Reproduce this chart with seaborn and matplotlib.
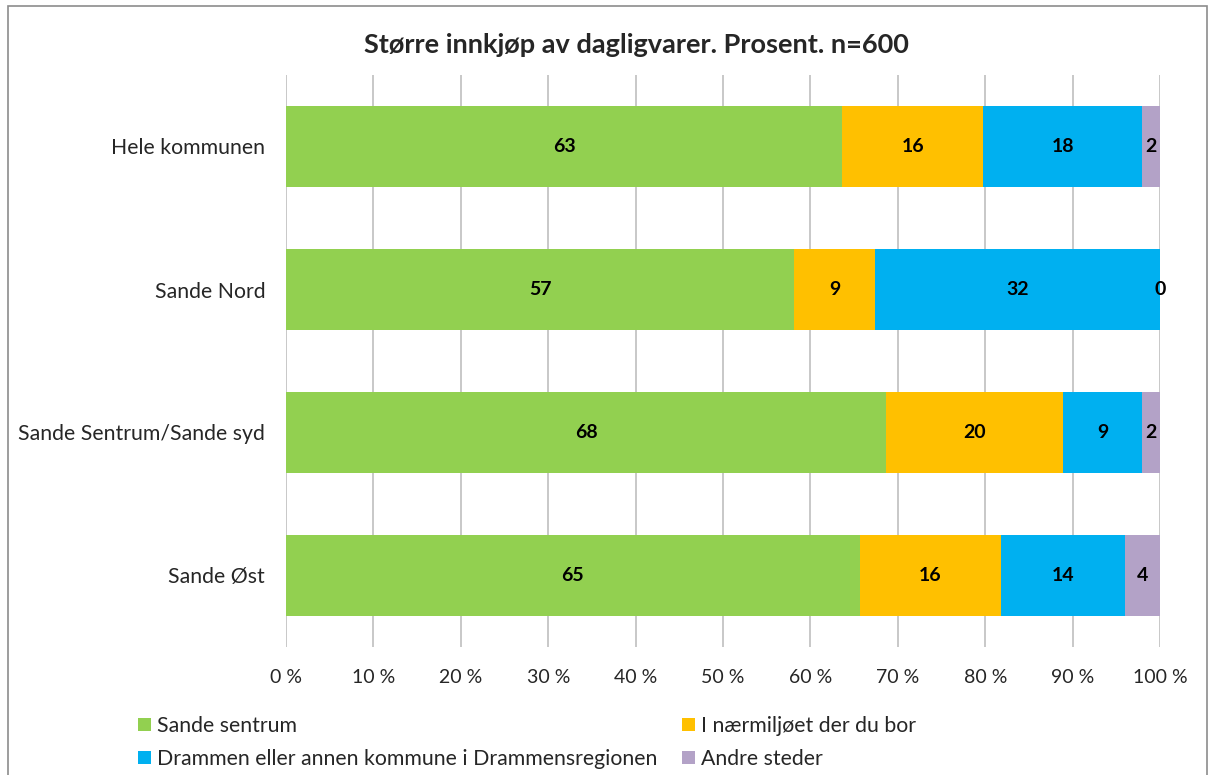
import numpy as np
import pandas as pd
import matplotlib
matplotlib.use('Agg')
import matplotlib.pyplot as plt
import seaborn as sns
from matplotlib.patches import Patch, Rectangle

# data (labels shown in percent, bars normalised to 100 %)
areas = ['Hele kommunen', 'Sande Nord', 'Sande Sentrum/Sande syd', 'Sande Øst']
sande_sentrum = [63, 57, 68, 65]
naermiljo = [16, 9, 20, 16]
drammen = [18, 32, 9, 14]
andre = [2, 0, 2, 4]
series_names = ['Sande sentrum', 'I nærmiljøet der du bor',
                'Drammen eller annen kommune i Drammensregionen', 'Andre steder']
colors = ['#92D050', '#FFC000', '#00B0F0', '#B3A2C7']
ticks = np.arange(0, 101, 10)

sns.set_theme(style='white')
plt.rcParams['font.family'] = ['Lato', 'DejaVu Sans']

vals = np.array([sande_sentrum, naermiljo, drammen, andre], dtype=float)
share = vals / vals.sum(axis=0) * 100
cum = np.cumsum(share, axis=0)

fig = plt.figure(figsize=(12.1, 7.75), dpi=100)
ax = fig.add_axes([286 / 1210, 1 - 647 / 775, 874 / 1210, 572 / 775])

# stacked bars: draw cumulative totals from the outside in
for i in range(3, -1, -1):
    df = pd.DataFrame({'area': areas, 'value': cum[i]})
    sns.barplot(data=df, x='value', y='area', orient='h', color=colors[i],
                saturation=1, width=0.56, edgecolor='none', linewidth=0, ax=ax)

for i in range(4):
    start = cum[i] - share[i]
    for j in range(len(areas)):
        ax.text(start[j] + share[i][j] / 2, j, f'{int(vals[i][j])}',
                ha='center', va='center', fontsize=14, fontweight='bold', color='black')

ax.set_xlim(0, 100)
ax.set_ylim(3.5, -0.5)
ax.set_xticks(ticks)
ax.set_xticklabels([f'{t} %' for t in ticks], fontsize=14)
ax.tick_params(axis='x', pad=16, length=0)
ax.tick_params(axis='y', pad=15, length=0, labelsize=15.3)
ax.set_xlabel('')
ax.set_ylabel('')
for t in ticks:
    ax.axvline(t, color='#BFBFBF', lw=1.2, zorder=0)
ax.set_axisbelow(True)
for s in ax.spines.values():
    s.set_visible(False)

fig.text(636 / 1210, 1 - 45 / 775, 'Større innkjøp av dagligvarer. Prosent. n=600',
         ha='center', va='center', fontsize=19.5, fontweight='bold')

order = [0, 2, 1, 3]
handles = [Patch(facecolor=colors[k], edgecolor='none') for k in order]
labels = [series_names[k] for k in order]
fig.legend(handles, labels, ncol=2, loc='upper left',
           bbox_to_anchor=(119 / 1210, 1 - 697 / 775), frameon=False,
           fontsize=15.3, handlelength=0.6, handleheight=0.6, handletextpad=0.3,
           columnspacing=1.15, labelspacing=0.6)

# outer chart border
fig.patches.append(Rectangle((8 / 1210, -0.05), 1199 / 1210, 1.05 - 6 / 775,
                             transform=fig.transFigure, fill=False,
                             edgecolor='#8C8C8C', lw=1.2))

fig.savefig('out.png', dpi=100)
